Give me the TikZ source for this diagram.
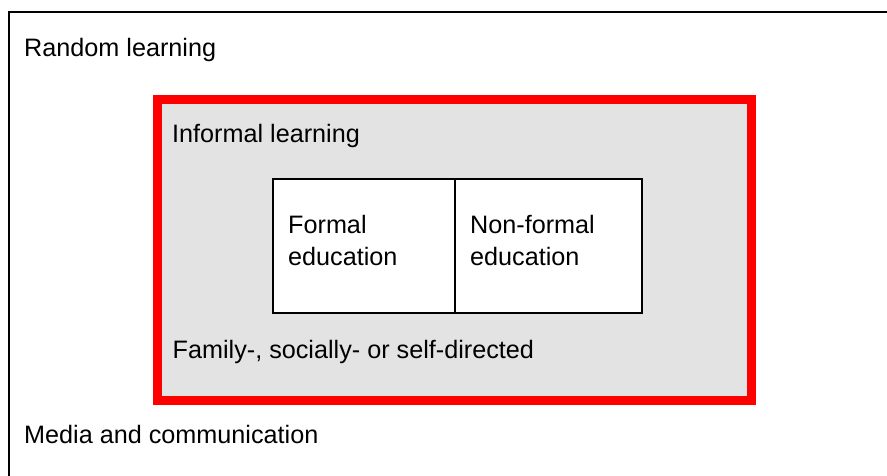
\documentclass[tikz,border=0pt]{standalone}
\usepackage{fontspec}
\setmainfont{Liberation Sans}
\begin{document}
\begin{tikzpicture}[x=1pt,y=-1pt,
  lbl/.style={anchor=base west,inner sep=0pt,font=\fontsize{25.2}{32}\selectfont},
  redbox/.style={draw=red,line width=9pt,fill=boxgray},
  whitebox/.style={draw=black,line width=2pt,fill=white}]
\definecolor{boxgray}{HTML}{E3E3E3}
\useasboundingbox (0,0) rectangle (887,475);
% outer (partially visible) frame
\draw[line width=2.2pt] (9,476) -- (9,12) -- (888,12);
% informal learning box
\draw[redbox] (157.5,99.5) rectangle (751.5,400);
% formal / non-formal boxes
\draw[whitebox] (273,179) rectangle (455,313);
\draw[whitebox] (455,179) rectangle (642,313);
% labels
\node[lbl] (random) at (24,56.7) {Random learning};
\node[lbl] (informal) at (172,142.7) {Informal learning};
\node[lbl] (formal1) at (288,233.3) {Formal};
\node[lbl] (formal2) at (288,265.3) {education};
\node[lbl] (nonformal1) at (470,233.3) {Non-formal};
\node[lbl] (nonformal2) at (470,265.3) {education};
\node[lbl] (family) at (172.5,358.3) {Family-, socially- or self-directed};
\node[lbl] (media) at (24,443.3) {Media and communication};
\end{tikzpicture}
\end{document}
